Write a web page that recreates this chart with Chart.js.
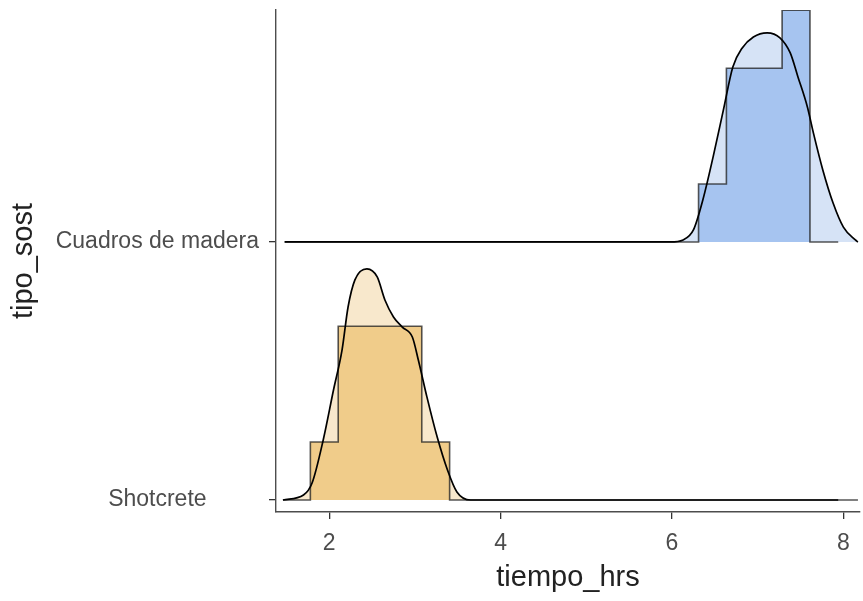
<!DOCTYPE html>
<html>
<head>
<meta charset="utf-8">
<script src="https://cdn.jsdelivr.net/npm/chart.js@4.4.1/dist/chart.umd.min.js"></script>
<style>
  html, body { margin: 0; padding: 0; background: #ffffff; }
  #wrap { width: 863px; height: 601px; }
</style>
</head>
<body>
<div id="wrap"><canvas id="chart" width="863" height="601"></canvas></div>
<script>
// Ridge categories (bottom to top) and axis labels
const categories = ['Shotcrete', 'Cuadros de madera'];
const xTicks = [2, 4, 6, 8];
const xTitle = 'tiempo_hrs';
const yTitle = 'tipo_sost';

// Histogram bins (edges in hours) and counts per ridge
const shotEdges  = [1.78, 2.105, 2.43, 2.755, 3.08, 3.405];
const shotCounts = [1, 3, 3, 3, 1];
const cuadEdges  = [6.31, 6.635, 6.96, 7.285, 7.61];
const cuadCounts = [1, 3, 3, 4];

// Kernel density estimates (x in hours, density)
const shotDensX = [1.46, 1.70, 1.80, 1.93, 2.05, 2.15, 2.22, 2.30, 2.44, 2.56, 2.65, 2.75, 2.85, 2.97, 3.04, 3.14, 3.26, 3.38, 3.49, 3.65, 7.94];
const shotDensY = [0, 0.024, 0.082, 0.290, 0.531, 0.725, 0.932, 1.063, 1.116, 1.077, 0.966, 0.884, 0.836, 0.787, 0.676, 0.498, 0.304, 0.145, 0.039, 0, 0];
const cuadDensX = [1.48, 5.98, 6.13, 6.25, 6.36, 6.48, 6.60, 6.71, 6.82, 6.95, 7.11, 7.26, 7.38, 7.47, 7.58, 7.65, 7.76, 7.88, 8.00, 8.14, 8.17];
const cuadDensY = [0, 0, 0.010, 0.058, 0.203, 0.411, 0.638, 0.845, 0.937, 0.990, 1.010, 0.986, 0.913, 0.797, 0.652, 0.527, 0.348, 0.188, 0.072, 0.010, 0];

// Extent of the zero-height histogram outline along each baseline
const shotHistRange = [1.46, 8.17];
const cuadHistRange = [1.48, 7.94];

// Ridge height of one histogram count, in y-axis units
const countUnit = 0.2245;

function histPoints(base, edges, counts, range) {
  const pts = [{ x: range[0], y: base }];
  counts.forEach((c, i) => pts.push({ x: edges[i], y: base + c * countUnit }));
  pts.push({ x: edges[edges.length - 1], y: base });
  pts.push({ x: range[1], y: base });
  return pts;
}

function densityPoints(base, xs, ds, edges, counts) {
  const n = counts.reduce((a, b) => a + b, 0);
  const bw = edges[1] - edges[0];
  return xs.map((x, i) => ({ x: x, y: base + ds[i] * n * bw * countUnit }));
}

const ridges = [
  { base: 1, edges: shotEdges, counts: shotCounts, dx: shotDensX, dy: shotDensY, range: shotHistRange,
    histFill: '#f0cc8a', densFill: '#f8e8cc' },
  { base: 2, edges: cuadEdges, counts: cuadCounts, dx: cuadDensX, dy: cuadDensY, range: cuadHistRange,
    histFill: '#a6c4f0', densFill: '#d6e3f6' }
];

const datasets = [];
ridges.forEach(r => {
  const dens = densityPoints(r.base, r.dx, r.dy, r.edges, r.counts);
  datasets.push({
    data: dens, fill: { value: r.base }, backgroundColor: r.densFill,
    borderWidth: 0, pointRadius: 0, cubicInterpolationMode: 'monotone', order: 4
  });
  datasets.push({
    data: histPoints(r.base, r.edges, r.counts, r.range), fill: { value: r.base },
    backgroundColor: r.histFill, borderColor: 'rgba(30,30,30,0.75)', borderWidth: 1.6,
    pointRadius: 0, stepped: true, order: 3
  });
  datasets.push({
    data: dens, fill: false, borderColor: '#000000', borderWidth: 1.7,
    pointRadius: 0, cubicInterpolationMode: 'monotone', order: 1
  });
});

const axisColor = '#4d4d4d';
const fontFamily = '"Liberation Sans", Arial, sans-serif';

// Keep the plot area edges fixed regardless of tick label overhang
function noOverhang(s) {
  s.paddingTop = 0; s.paddingBottom = 0; s.paddingLeft = 0; s.paddingRight = 0;
}

new Chart(document.getElementById('chart'), {
  type: 'line',
  data: { datasets },
  options: {
    responsive: false,
    animation: false,
    layout: { padding: { top: 10, right: 3, left: 0, bottom: 0 } },
    plugins: { legend: { display: false }, tooltip: { enabled: false } },
    scales: {
      x: {
        type: 'linear', min: 1.379, max: 8.194,
        afterBuildTicks: s => { s.ticks = xTicks.map(v => ({ value: v })); },
        afterFit: s => { s.height = 89; noOverhang(s); },
        ticks: { color: axisColor, font: { family: fontFamily, size: 23 }, padding: 11, maxRotation: 0 },
        grid: { drawOnChartArea: false, drawTicks: true, tickLength: 7, color: '#333333', lineWidth: 1.3 },
        border: { display: true, color: axisColor, width: 1.4 },
        title: { display: true, text: xTitle, color: '#222222', font: { family: fontFamily, size: 29 }, padding: { top: 0, bottom: 6 } }
      },
      y: {
        type: 'linear', min: 0.9535, max: 2.899,
        afterBuildTicks: s => { s.ticks = categories.map((c, i) => ({ value: i + 1 })); },
        afterFit: s => { s.width = 276; noOverhang(s); },
        ticks: { color: axisColor, font: { family: fontFamily, size: 23 }, padding: 10, crossAlign: 'center',
                 callback: v => categories[Math.round(v) - 1] },
        grid: { drawOnChartArea: false, drawTicks: true, tickLength: 7, color: '#333333', lineWidth: 1.3 },
        border: { display: true, color: axisColor, width: 1.4 },
        title: { display: true, text: yTitle, color: '#222222', font: { family: fontFamily, size: 29 }, padding: { top: 7, bottom: 0 } }
      }
    }
  }
});
</script>
</body>
</html>
